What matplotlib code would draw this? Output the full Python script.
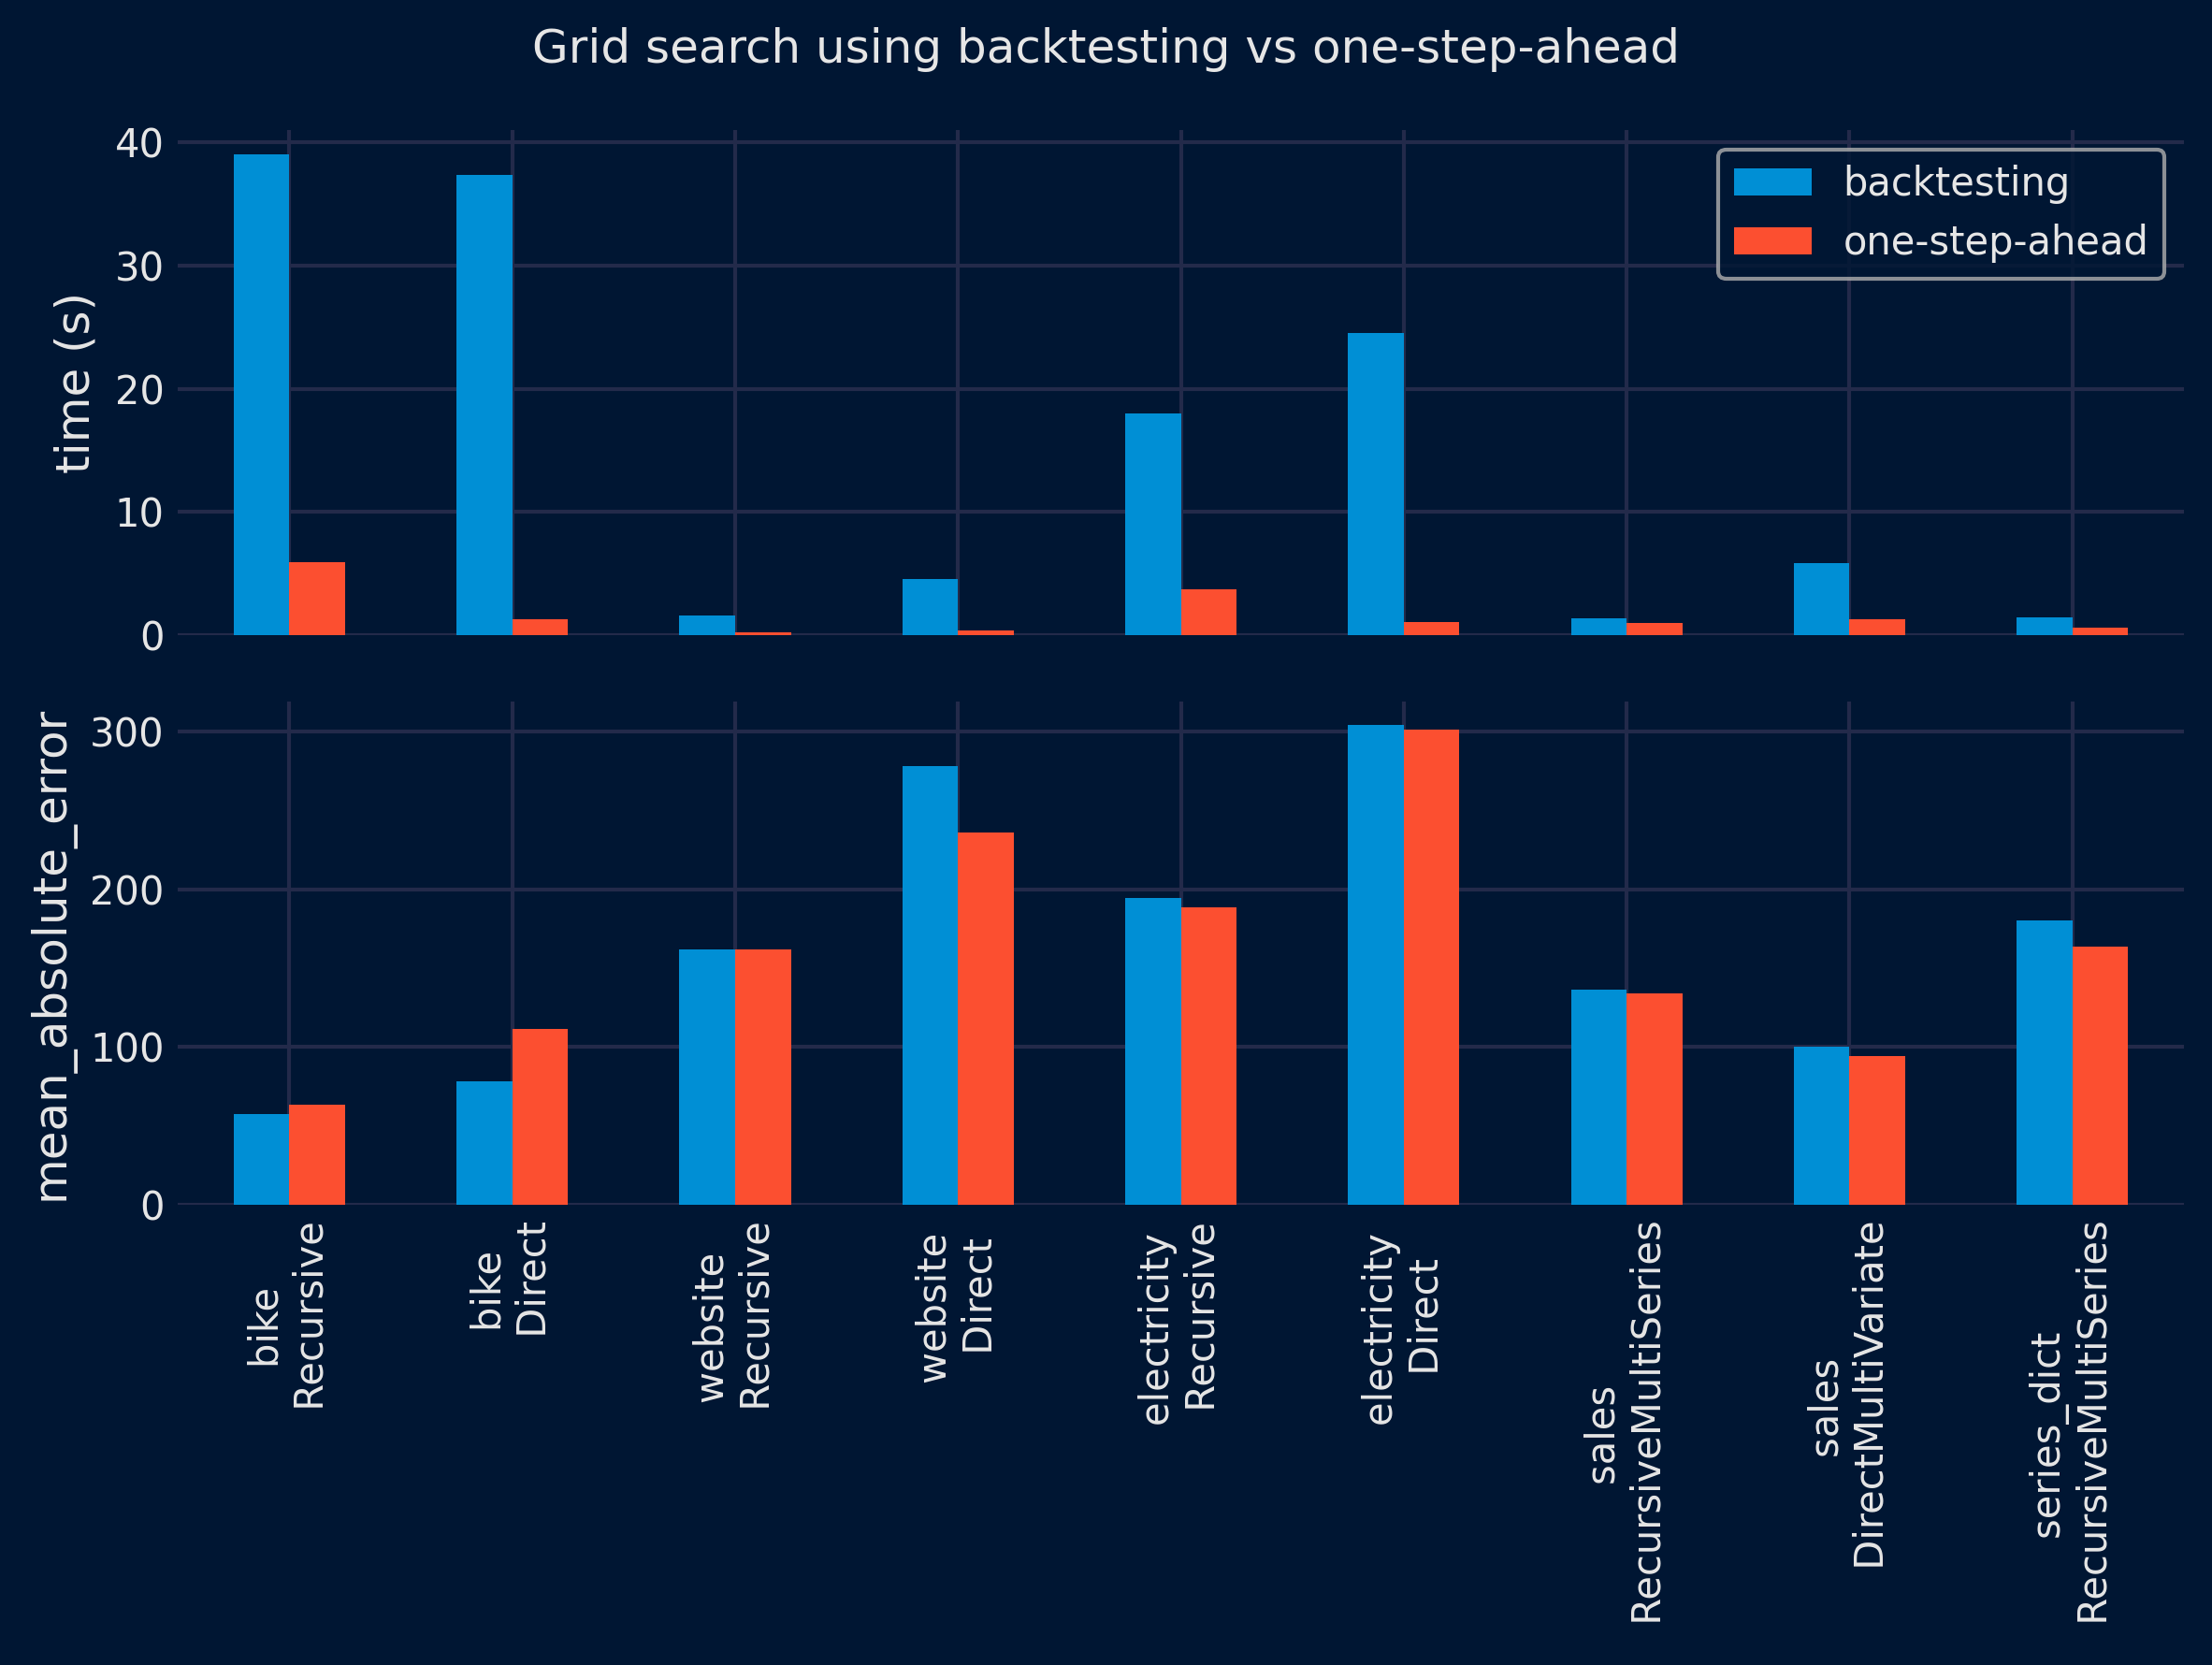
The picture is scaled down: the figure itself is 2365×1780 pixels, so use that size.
import numpy as np
import matplotlib
matplotlib.use("Agg")
import matplotlib.pyplot as plt

datasets = ["bike", "bike", "website", "website", "electricity", "electricity",
            "sales", "sales", "series_dict"]
forecasters = ["Recursive", "Direct", "Recursive", "Direct", "Recursive", "Direct",
               "RecursiveMultiSeries", "DirectMultiVariate", "RecursiveMultiSeries"]
time_backtesting = [39.07, 37.35, 1.57, 4.55, 17.95, 24.5, 1.32, 5.8, 1.45]
time_one_step = [5.92, 1.3, 0.22, 0.38, 3.72, 1.02, 0.95, 1.25, 0.55]
mae_backtesting = [57.7, 78.4, 161.9, 278.0, 194.5, 304.2, 136.5, 100.1, 180.1]
mae_one_step = [63.6, 111.7, 161.9, 235.9, 188.5, 301.6, 134.2, 94.6, 163.8]
series_labels = ["backtesting", "one-step-ahead"]

categories = [f"{d} \n {f}" for d, f in zip(datasets, forecasters)]

BG = "#001633"
TXT = "#E6E6E6"
GRID = "#232a4a"
C1 = "#008FD5"
C2 = "#FC4F30"

plt.rcParams.update({
    "font.family": ["DejaVu Sans"],
    "text.color": TXT,
    "axes.labelcolor": TXT,
    "xtick.color": TXT,
    "ytick.color": TXT,
})

fig = plt.figure(figsize=(2365 / 300, 1780 / 300), dpi=300, facecolor=BG)
ax1 = fig.add_axes([0.0804, 0.6187, 0.9069, 0.3033])
ax2 = fig.add_axes([0.0804, 0.2764, 0.9069, 0.3025])

x = np.arange(len(categories))
w = 0.25

for ax, a, b, ylab in [(ax1, time_backtesting, time_one_step, "time (s)"),
                       (ax2, mae_backtesting, mae_one_step, "mean_absolute_error")]:
    ax.set_facecolor(BG)
    ax.bar(x - w / 2, a, width=w, color=C1, label=series_labels[0], zorder=2)
    ax.bar(x + w / 2, b, width=w, color=C2, label=series_labels[1], zorder=2)
    ax.set_xlim(-0.5, len(categories) - 0.5)
    ax.set_xticks(x)
    ax.grid(True, color=GRID, linewidth=1.0)
    ax.set_axisbelow(True)
    for s in ax.spines.values():
        s.set_visible(False)
    ax.tick_params(length=0, labelsize=10, pad=3.5)
    ax.tick_params(axis="x", pad=4)
    ax.set_ylabel(ylab, fontsize=12)

ax1.set_yticks([0, 10, 20, 30, 40])
ax1.set_xticklabels([])
ax2.set_yticks([0, 100, 200, 300])
ax2.set_xticklabels(categories, rotation=90, ha="center", ma="center")

leg = ax1.legend(loc="upper right", fontsize=10, facecolor=BG, edgecolor="#b0b0b0",
                 framealpha=0.8)
for t in leg.get_texts():
    t.set_color(TXT)

fig.suptitle("Grid search using backtesting vs one-step-ahead", fontsize=12,
             color=TXT, y=0.970, va="center")

fig.savefig("out.png", dpi=300, facecolor=BG)
